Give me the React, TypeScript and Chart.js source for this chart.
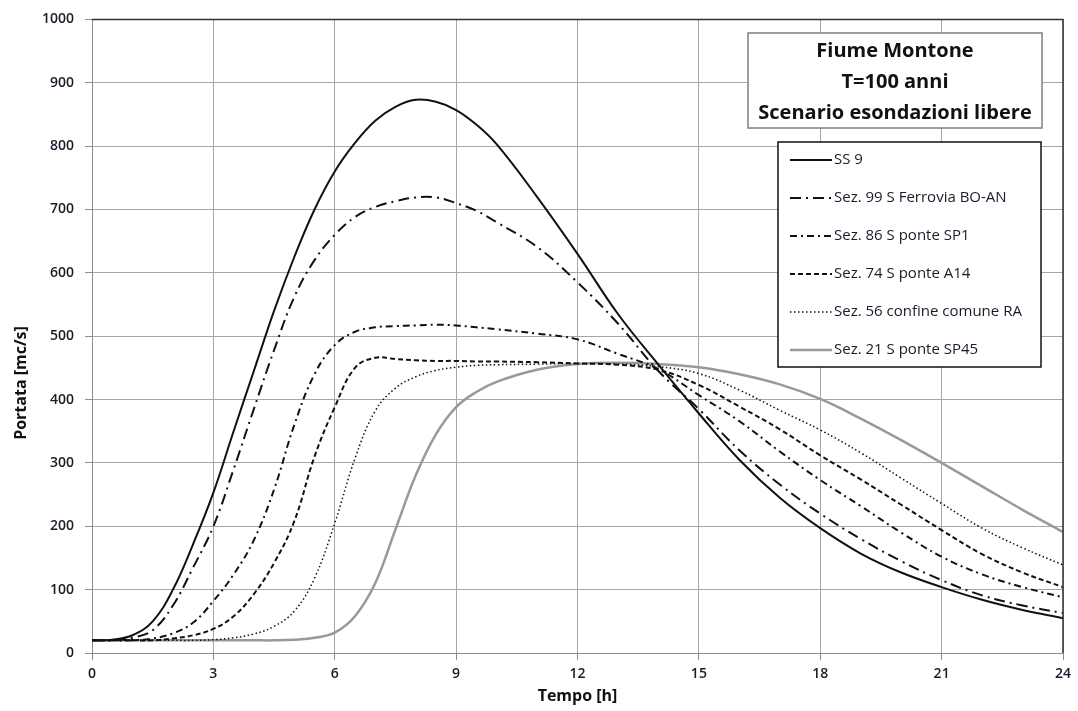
import React, { useEffect, useRef } from 'react';
import { Chart, registerables } from 'chart.js';

Chart.register(...registerables);

const TIMES = [0, 0.5, 1, 1.5, 2, 2.5, 3, 3.5, 4, 4.5, 5, 5.5, 6, 6.5, 7, 7.5, 8, 8.5, 9, 9.5, 10, 11, 12, 13, 14, 15, 16, 17, 18, 19, 20, 21, 22, 23, 24];
const SS9 = [20, 21, 28, 50, 100, 172, 253, 350, 445, 540, 625, 700, 760, 805, 840, 862, 873, 870, 857, 834, 803, 720, 630, 535, 455, 378, 305, 245, 197, 157, 127, 104, 84, 68, 55];
const SEZ99 = [20, 20, 24, 36, 75, 135, 200, 290, 385, 478, 562, 620, 660, 688, 704, 713, 719, 719, 710, 698, 680, 641, 585, 520, 445, 385, 320, 266, 220, 180, 145, 115, 91, 75, 63];
const SEZ86 = [20, 20, 20, 23, 31, 48, 82, 124, 178, 258, 360, 440, 486, 507, 514, 516, 517, 518, 517, 514, 511, 504, 495, 472, 448, 407, 366, 318, 273, 232, 190, 152, 124, 104, 88];
const SEZ74 = [20, 20, 20, 20, 23, 28, 38, 58, 93, 142, 208, 310, 388, 450, 466, 464, 462, 461, 461, 460, 460, 459, 457, 455, 447, 423, 389, 353, 312, 274, 234, 194, 156, 127, 104];
const SEZ56 = [20, 20, 20, 20, 20, 20, 21, 24, 30, 42, 66, 118, 205, 307, 382, 418, 436, 446, 451, 454, 455, 456, 457, 456, 452, 441, 415, 383, 352, 316, 276, 236, 197, 166, 139];
const SEZ21 = [20, 20, 20, 20, 20, 20, 20, 20, 20, 20, 21, 24, 32, 58, 110, 195, 280, 345, 388, 412, 428, 447, 456, 458, 456, 451, 440, 424, 401, 370, 336, 300, 263, 226, 191];

const SERIES_NAMES = ['SS 9', 'Sez. 99 S Ferrovia BO-AN', 'Sez. 86 S ponte SP1', 'Sez. 74 S ponte A14', 'Sez. 56 confine comune RA', 'Sez. 21 S ponte SP45'];
const TITLE_LINES = ['Fiume Montone', 'T=100 anni', 'Scenario esondazioni libere'];
const X_TITLE = 'Tempo [h]';
const Y_TITLE = 'Portata [mc/s]';

const FONT = '"Open Sans", "Liberation Sans", sans-serif';

const STYLES = [
  { color: '#111111', width: 2, dash: [] as number[] },
  { color: '#111111', width: 2, dash: [11, 5, 2, 5] },
  { color: '#111111', width: 2, dash: [7, 4, 2, 4] },
  { color: '#111111', width: 2, dash: [5, 3] },
  { color: '#111111', width: 1.5, dash: [1.5, 2.5] },
  { color: '#999999', width: 2.5, dash: [] as number[] },
];

const overlayPlugin = {
  id: 'overlay',
  afterDraw(chart: any) {
    const ctx = chart.ctx as CanvasRenderingContext2D;
    const a = chart.chartArea;
    ctx.save();
    ctx.strokeStyle = '#333333';
    ctx.lineWidth = 1.5;
    ctx.beginPath();
    ctx.moveTo(a.left, a.top);
    ctx.lineTo(a.right, a.top);
    ctx.lineTo(a.right, a.bottom);
    ctx.stroke();

    // title box
    ctx.fillStyle = '#ffffff';
    ctx.fillRect(748, 33, 294, 95);
    ctx.strokeStyle = '#7f7f7f';
    ctx.lineWidth = 1.5;
    ctx.strokeRect(748, 33, 294, 95);
    ctx.fillStyle = '#111111';
    ctx.font = `bold 20px ${FONT}`;
    ctx.textAlign = 'center';
    ctx.textBaseline = 'middle';
    const ty = [51, 82, 113];
    TITLE_LINES.forEach((t, i) => ctx.fillText(t, 895, ty[i]));

    // legend box
    ctx.fillStyle = '#ffffff';
    ctx.fillRect(778, 142, 263, 225);
    ctx.strokeStyle = '#111111';
    ctx.lineWidth = 1.5;
    ctx.strokeRect(778, 142, 263, 225);
    ctx.font = `15px ${FONT}`;
    ctx.textAlign = 'left';
    ctx.textBaseline = 'middle';
    chart.data.datasets.forEach((ds: any, i: number) => {
      const y = 160 + i * 38;
      ctx.strokeStyle = ds.borderColor;
      ctx.lineWidth = ds.borderWidth;
      ctx.setLineDash(ds.borderDash || []);
      ctx.beginPath();
      ctx.moveTo(790, y);
      ctx.lineTo(832, y);
      ctx.stroke();
      ctx.setLineDash([]);
      ctx.fillStyle = '#1a1a2a';
      ctx.fillText(ds.label, 834, y);
    });

    // axis titles
    ctx.fillStyle = '#111111';
    ctx.font = `bold 16px ${FONT}`;
    ctx.textAlign = 'center';
    ctx.textBaseline = 'middle';
    ctx.fillText(X_TITLE, (a.left + a.right) / 2, 696);
    ctx.translate(21, 383);
    ctx.rotate(-Math.PI / 2);
    ctx.fillText(Y_TITLE, 0, 0);
    ctx.restore();
  },
};

export default function App() {
  const canvasRef = useRef<HTMLCanvasElement | null>(null);

  useEffect(() => {
    document.body.style.margin = '0';
    const all = [SS9, SEZ99, SEZ86, SEZ74, SEZ56, SEZ21];
    const chart = new Chart(canvasRef.current as HTMLCanvasElement, {
      type: 'line',
      data: {
        datasets: all.map((vals, i) => ({
          label: SERIES_NAMES[i],
          data: TIMES.map((t, j) => ({ x: t, y: vals[j] })),
          borderColor: STYLES[i].color,
          borderWidth: STYLES[i].width,
          borderDash: STYLES[i].dash,
          pointRadius: 0,
          fill: false,
          tension: 0.4,
        })),
      },
      options: {
        animation: false,
        responsive: false,
        maintainAspectRatio: false,
        layout: { padding: { left: 0, top: 19, right: 15, bottom: 0 } },
        plugins: {
          legend: { display: false },
          title: { display: false },
          tooltip: { enabled: false },
        },
        scales: {
          x: {
            type: 'linear',
            min: 0,
            max: 24,
            afterFit: (s: any) => { s.height = 58; },
            ticks: {
              stepSize: 3,
              padding: 6,
              color: '#1a1a2a',
              font: { family: FONT, size: 14, weight: '600' },
              maxRotation: 0,
              callback: (v: any) => String(v),
            },
            grid: { color: '#a6a6a6', lineWidth: 1, tickLength: 7, tickColor: '#8c8c8c' },
            border: { color: '#8c8c8c', width: 1 },
          },
          y: {
            min: 0,
            max: 1000,
            afterFit: (s: any) => { s.width = 92; },
            ticks: {
              stepSize: 100,
              padding: 11,
              color: '#1a1a2a',
              font: { family: FONT, size: 14, weight: '600' },
              callback: (v: any) => String(v),
            },
            grid: { color: '#a6a6a6', lineWidth: 1, tickLength: 7, tickColor: '#8c8c8c' },
            border: { color: '#8c8c8c', width: 1 },
          },
        },
      },
      plugins: [overlayPlugin],
    });
    return () => chart.destroy();
  }, []);

  return (
    <div style={{ position: 'absolute', left: 0, top: 0, width: 1078, height: 711, background: '#ffffff' }}>
      <canvas ref={canvasRef} width={1078} height={711} style={{ width: 1078, height: 711 }} />
    </div>
  );
}
